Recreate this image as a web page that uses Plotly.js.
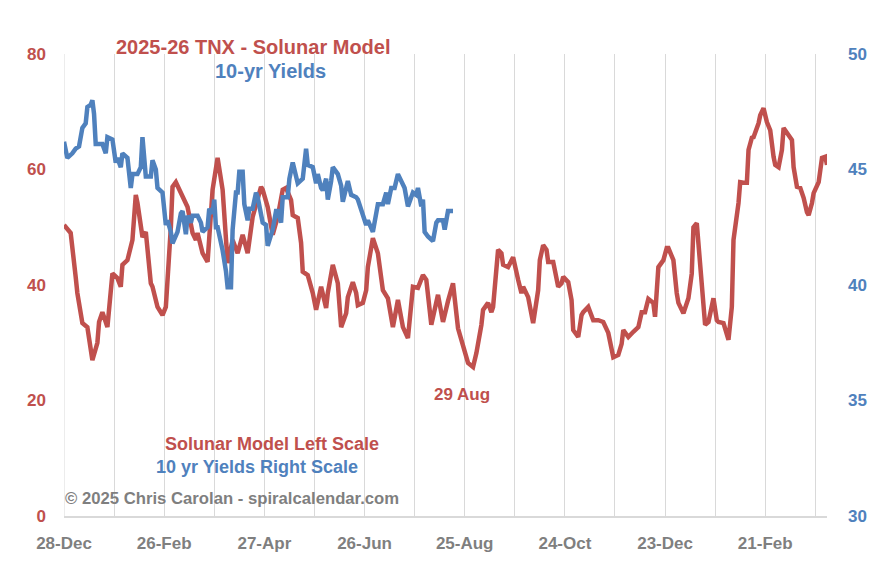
<!DOCTYPE html>
<html>
<head>
<meta charset="utf-8">
<script src="https://cdn.plot.ly/plotly-3.0.1.min.js"></script>
<style>html,body{margin:0;padding:0;background:#fff;}#chart{width:878px;height:568px;}</style>
</head>
<body>
<div id="chart"></div>
<script>
// Day offsets from 28-Dec-2024 and values
const startDate = Date.UTC(2024, 11, 28);
const solunarDays = [0,4,7,8,11,14,17,20,21,23,26,29,32,34,35,38,41,43,44,47,49,52,53,56,59,61,64,65,67,70,71,74,77,79,80,83,86,89,92,95,98,101,104,107,110,113,118,119,122,124,125,128,131,133,136,137,140,142,143,146,149,151,154,157,158,161,164,166,169,170,173,175,176,179,181,182,185,188,191,194,197,200,203,206,209,212,215,217,220,224,227,230,233,236,239,242,245,247,250,251,254,256,257,260,262,263,266,269,272,274,275,278,281,284,285,287,289,290,293,296,298,299,302,304,305,308,310,311,314,316,317,320,323,326,329,332,334,335,338,341,344,346,348,350,353,354,356,359,361,362,365,367,368,371,374,376,377,379,380,383,384,386,389,391,392,395,398,400,401,404,405,407,409,410,412,413,416,417,419,421,423,425,426,428,430,431,434,436,437,439,441,443,445,446,448,449,452,453,454,456,457];
const solunarVals = [50.4,49,41.4,38.6,33.4,32.7,27,30,33.6,35.3,32.7,42,41.2,39.7,43.5,44.3,47.8,55.6,54.2,48.3,49.2,40.3,39.7,36.2,34.8,36.2,50,57,57.8,56.1,55.6,53.5,49,47.8,49,45.5,44,56.5,62,56.5,43.8,47.8,45.5,48.7,45.5,51.8,57,56.5,53.5,50.7,48.7,51.8,56.5,56.8,54.7,52.1,51.6,47.3,42.3,41.7,38.6,35.7,39.7,36,38.6,43.5,40.3,32.7,35.1,37.9,40.5,38.6,36.5,36.9,39.1,43.1,48.1,45.5,39.1,37.7,32.7,37.4,32.7,30.8,39.7,39.5,41.7,40.9,33.1,38.3,33.6,37.2,40.3,32.5,29.3,26.5,25.8,28.2,33.1,35.7,36.9,35.3,36.2,46.1,45.5,43.5,43.1,44.8,40.9,38.6,39.7,37.9,33.4,39.1,44.3,46.9,46.1,44,44,39.7,40.3,41.4,40.5,37.4,32.2,31,34.8,35.3,36.2,34.8,33.9,33.9,33.6,31.7,27.5,27.9,29.8,32.2,31,31.9,32.7,35.3,35.3,37.6,36.9,34.5,43.1,44.3,46.4,46.4,44.3,38.6,36.9,35.1,37.7,42,50,50.7,47.3,36.9,33.1,33.6,37.7,33.9,33.6,33.4,30.5,36.2,47.8,54.2,57.8,57.7,57.7,63.4,65.5,65.6,68,69.4,70.6,68.2,66.8,62.2,60.8,60.4,63.4,67.2,66,65.1,60.4,57,56.8,55.1,52.6,52.1,54.2,55.9,57.8,59.9,62,62.2,60.8];
const yieldDays = [0,2,5,7,9,11,13,14,16,17,18,19,22,23,25,26,29,31,32,34,35,38,40,41,44,46,47,49,52,53,55,56,59,61,62,64,65,68,70,71,73,74,76,77,80,82,83,86,87,89,90,91,92,95,97,98,100,101,103,104,105,107,108,110,111,113,115,116,119,121,122,125,127,128,130,131,134,135,137,139,140,143,145,146,149,151,152,154,155,157,158,160,161,164,166,167,169,170,172,175,176,179,181,182,185,188,191,193,194,196,198,200,202,204,206,209,211,212,214,215,216,218,221,223,224,227,228,230,233];
const yieldVals = [46.2,45.5,45.7,45.9,46,46.8,47,47.7,47.8,48,47.4,46.1,46.1,46.1,45.7,46.4,46.3,45.3,45.5,45.1,45.7,45.5,44.2,44.8,44.8,45.1,46.4,44.7,44.7,45.4,45,44.2,44,42.6,42.8,42.3,41.8,42.3,43.1,43.2,42.2,43,42.7,43,43,42.7,42.3,42.5,43.3,43.1,43.7,42.5,42.5,41.5,40.6,39.9,39.9,42.4,44,44,44.9,44.9,43.5,42.8,43.3,43.3,44,43.8,42.7,42.6,41.7,42.4,43.2,43.2,42.7,43.8,43.8,44.6,45.3,44.7,44.4,44.6,45.9,45.2,45.1,44.4,44.8,44.2,44.1,44.6,43.7,44.5,45.1,44.8,44.3,43.6,44.2,44.5,43.9,43.8,43.7,43,42.6,42.8,42.3,43.5,43.5,44,43.5,44.2,44.2,44.8,44.5,44.2,43.4,44,43.9,44.2,43.4,43.7,42.3,42.1,41.9,42.7,42.8,42.8,42.4,43.2,43.2];

const leftTicks = [0, 20, 40, 60, 80];
const rightTicks = [30, 35, 40, 45, 50];

const RED = '#C0504D', BLUE = '#4F81BD', GRAY = '#7F7F7F', GRID = '#D9D9D9';
const FONT = 'Liberation Sans, Arial, sans-serif';
const toDate = d => new Date(startDate + d * 86400000).toISOString().slice(0, 10);
const DAY = 86400000;

const traces = [
  { x: solunarDays.map(toDate), y: solunarVals, type: 'scatter', mode: 'lines',
    line: { color: RED, width: 4.5 }, yaxis: 'y', hoverinfo: 'skip' },
  { x: yieldDays.map(toDate), y: yieldVals, type: 'scatter', mode: 'lines',
    line: { color: BLUE, width: 4.5 }, yaxis: 'y2', hoverinfo: 'skip' }
];

const P = (x, y) => ({ x: (x - 64) / 763, y: (516 - y) / 462 });
function ann(text, pos, color, size, xanchor) {
  return { text: text, xref: 'paper', yref: 'paper', x: pos.x, y: pos.y, showarrow: false,
    xanchor: xanchor || 'center', yanchor: 'middle',
    font: { family: FONT, size: size, color: color, weight: 700 } };
}

const layout = {
  width: 878, height: 568,
  margin: { l: 64, r: 51, t: 54, b: 52 },
  paper_bgcolor: '#fff', plot_bgcolor: '#fff',
  showlegend: false,
  xaxis: {
    type: 'date', range: [toDate(0), toDate(457.8)],
    tick0: toDate(0), dtick: 60 * DAY, tickformat: '%-d-%b',
    showgrid: true, gridcolor: GRID, gridwidth: 1,
    minor: { dtick: 30 * DAY, tick0: toDate(0), showgrid: true, gridcolor: GRID, gridwidth: 1 },
    showline: true, linecolor: GRID, linewidth: 1.5, zeroline: false,
    ticks: '', ticklabelstandoff: 11,
    tickfont: { family: FONT, size: 17, color: GRAY, weight: 700 }
  },
  yaxis: {
    range: [0, 80], tickvals: leftTicks, showgrid: false, zeroline: false, showline: false,
    ticks: '', ticklabelstandoff: 17,
    tickfont: { family: FONT, size: 17, color: RED, weight: 700 }
  },
  yaxis2: {
    range: [30, 50], tickvals: rightTicks, overlaying: 'y', side: 'right',
    showgrid: false, zeroline: false, showline: false,
    ticks: '', ticklabelstandoff: 20,
    tickfont: { family: FONT, size: 17, color: BLUE, weight: 700 }
  },
  shapes: [
    { type: 'line', xref: 'x', yref: 'paper', x0: toDate(0), x1: toDate(0), y0: 0, y1: 1,
      line: { color: GRID, width: 1 }, layer: 'below' }
  ],
  annotations: [
    ann('2025-26 TNX - Solunar Model', P(253, 47), RED, 20),
    ann('10-yr Yields', P(270, 71), BLUE, 20),
    ann('Solunar Model Left Scale', P(272, 444), RED, 18),
    ann('10 yr Yields Right Scale', P(257, 467), BLUE, 18),
    ann('© 2025 Chris Carolan - spiralcalendar.com', P(63, 498), GRAY, 16.7, 'left'),
    ann('29 Aug', P(462, 394), RED, 17)
  ]
};

Plotly.newPlot('chart', traces, layout, { staticPlot: true, displayModeBar: false });
</script>
</body>
</html>
